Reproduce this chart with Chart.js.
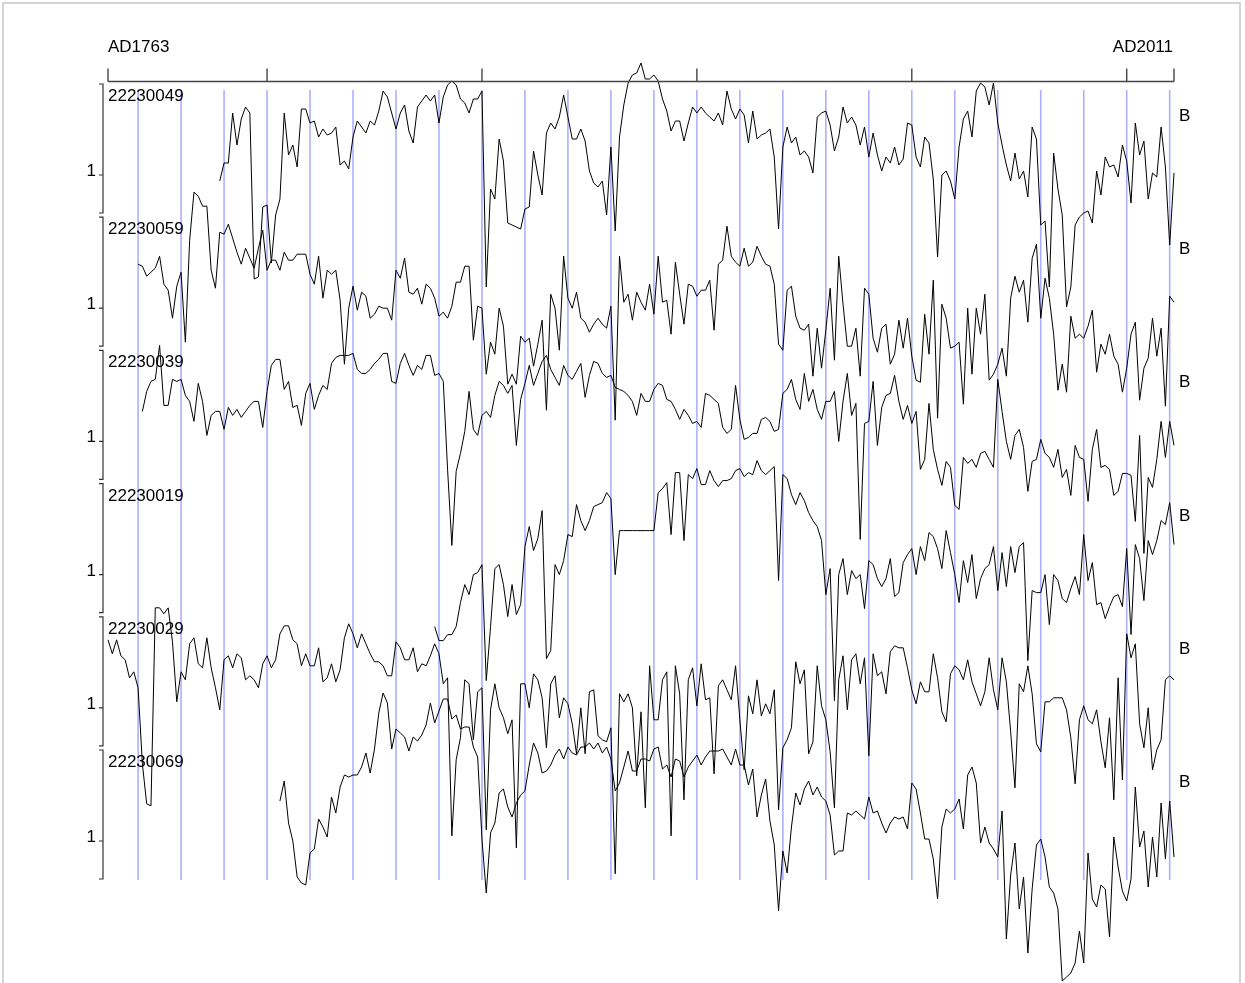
<!DOCTYPE html>
<html lang="en">
<head>
<meta charset="UTF-8">
<title>Ring width series 2223</title>
<script src="https://cdn.jsdelivr.net/npm/chart.js"></script>
<style>
  html, body { margin: 0; padding: 0; background: #fff; }
  body { width: 1245px; height: 983px; overflow: hidden; position: relative; }
  #frame { position: absolute; left: 2px; top: 2px; width: 1239px; height: 1100px; border: 2px solid #d4d4d4; box-sizing: border-box; }
  #chart { position: absolute; left: 0; top: 0; }
</style>
</head>
<body>
<div id="frame"></div>
<canvas id="chart" width="1245" height="983"></canvas>
<script>
const firstYear = 1763;
const lastYear = 2011;
const seriesNames = ['22230049', '22230059', '22230039', '22230019', '22230029', '22230069'];
const startYears = [1789, 1770, 1771, 1839, 1763, 1803];
const axisTicks = [1763, 1800, 1850, 1900, 1950, 2000, 2011];
const decadeLines = [1770, 1780, 1790, 1800, 1810, 1820, 1830, 1840, 1850, 1860, 1870, 1880, 1890,
  1900, 1910, 1920, 1930, 1940, 1950, 1960, 1970, 1980, 1990, 2000, 2010];
const endLabels = ['AD1763', 'AD2011'];

// ring width index, one value per year from the start year
const s22230049 = [0.97, 1.06, 1.06, 1.31, 1.15, 1.28, 1.34, 1.31, 0.48, 0.49, 0.84,
  0.85, 0.56, 0.80, 0.88, 1.31, 1.10, 1.15, 1.04, 1.33, 1.33,
  1.26, 1.27, 1.19, 1.23, 1.20, 1.21, 1.24, 1.05, 1.07, 1.03,
  1.19, 1.27, 1.24, 1.21, 1.27, 1.25, 1.32, 1.42, 1.39, 1.31,
  1.23, 1.31, 1.35, 1.22, 1.16, 1.34, 1.37, 1.40, 1.37, 1.40,
  1.26, 1.39, 1.45, 1.47, 1.45, 1.38, 1.36, 1.31, 1.38, 1.38,
  1.42, 0.44, 0.93, 0.88, 1.18, 1.07, 0.76, 0.75, 0.74, 0.73,
  0.83, 0.84, 1.12, 1.00, 0.90, 1.21, 1.26, 1.23, 1.29, 1.40,
  1.29, 1.18, 1.18, 1.23, 1.17, 1.02, 0.96, 0.94, 0.97, 0.80,
  1.14, 0.72, 1.19, 1.35, 1.46, 1.50, 1.51, 1.56, 1.48, 1.48,
  1.50, 1.47, 1.38, 1.32, 1.22, 1.27, 1.27, 1.17, 1.26, 1.34,
  1.31, 1.34, 1.31, 1.29, 1.27, 1.31, 1.25, 1.42, 1.33, 1.28,
  1.33, 1.30, 1.16, 1.32, 1.18, 1.20, 1.21, 1.23, 1.09, 0.73,
  1.14, 1.24, 1.16, 1.19, 1.10, 1.12, 1.09, 1.01, 1.29, 1.31,
  1.32, 1.25, 1.12, 1.19, 1.34, 1.26, 1.29, 1.25, 1.15, 1.24,
  1.09, 1.21, 1.10, 1.02, 1.09, 1.06, 1.14, 1.05, 1.08, 1.26,
  1.25, 1.09, 1.04, 1.19, 1.16, 0.98, 0.59, 1.00, 1.02, 0.97,
  0.88, 1.14, 1.28, 1.32, 1.19, 1.42, 1.46, 1.44, 1.35, 1.46,
  1.26, 1.15, 1.05, 0.97, 1.11, 0.98, 1.02, 0.89, 1.24, 1.18,
  0.75, 0.77, 0.44, 1.11, 0.93, 0.80, 0.34, 0.44, 0.75, 0.79,
  0.81, 0.82, 0.76, 1.02, 0.90, 1.09, 1.04, 1.05, 0.99, 1.15,
  1.07, 0.86, 1.26, 1.10, 1.17, 0.88, 1.01, 0.99, 1.24, 1.04,
  0.65, 1.01];

const s22230059 = [1.22, 1.21, 1.16, 1.18, 1.20, 1.26, 1.12, 1.09, 0.95, 1.11,
  1.18, 0.83, 1.34, 1.58, 1.56, 1.51, 1.51, 1.19, 1.10, 1.38,
  1.37, 1.42, 1.35, 1.28, 1.22, 1.30, 1.25, 1.20, 1.30, 1.39,
  1.19, 1.24, 1.24, 1.19, 1.28, 1.24, 1.24, 1.27, 1.27, 1.27,
  1.17, 1.12, 1.26, 1.05, 1.19, 1.17, 1.19, 1.04, 0.72, 1.00,
  1.11, 0.99, 1.08, 1.06, 0.95, 0.97, 1.01, 1.00, 1.00, 0.94,
  1.19, 1.15, 1.25, 1.08, 1.07, 1.10, 1.02, 1.12, 1.10, 1.05,
  0.96, 0.98, 0.95, 1.01, 1.13, 1.13, 1.21, 1.21, 0.84, 1.01,
  1.00, 0.67, 0.83, 0.77, 1.00, 0.91, 0.62, 0.67, 0.62, 0.86,
  0.83, 0.85, 0.71, 0.82, 0.94, 0.49, 1.07, 1.00, 0.79, 1.26,
  1.05, 1.00, 1.08, 0.95, 0.93, 0.88, 0.92, 0.95, 0.92, 0.90,
  1.01, 0.44, 1.26, 1.03, 1.07, 0.94, 1.08, 1.03, 0.99, 1.12,
  0.97, 1.26, 1.03, 1.04, 0.87, 1.23, 1.07, 0.92, 1.12, 1.11,
  1.06, 1.09, 1.09, 1.14, 0.89, 1.22, 1.24, 1.41, 1.26, 1.23,
  1.21, 1.30, 1.21, 1.23, 1.31, 1.26, 1.22, 1.21, 1.12, 0.82,
  0.79, 1.09, 1.11, 0.96, 0.90, 0.89, 0.92, 0.66, 0.90, 0.70,
  0.89, 1.10, 0.74, 1.26, 1.02, 0.81, 0.81, 0.90, 0.66, 1.10,
  1.07, 0.85, 0.78, 0.90, 0.92, 0.72, 0.77, 0.94, 0.80, 0.95,
  0.76, 0.64, 0.63, 0.97, 0.77, 1.14, 0.45, 1.02, 0.95, 0.80,
  0.81, 0.83, 0.52, 1.00, 0.67, 1.00, 0.87, 1.07, 0.64, 0.67,
  0.72, 0.80, 0.66, 1.05, 1.16, 1.08, 1.14, 0.93, 1.25, 1.32,
  0.95, 1.15, 1.05, 0.87, 0.59, 0.72, 0.58, 0.96, 0.85, 0.87,
  0.85, 0.91, 0.99, 0.68, 0.82, 0.77, 0.87, 0.76, 0.72, 0.58,
  0.70, 0.87, 0.93, 0.54, 0.70, 0.75, 0.95, 0.76, 0.90, 0.51,
  1.06, 1.03];

const s22230039 = [1.15, 1.25, 1.30, 1.31, 1.48, 1.18, 1.18, 1.31, 1.30,
  1.31, 1.23, 1.20, 1.10, 1.29, 1.20, 1.03, 1.13, 1.15, 1.15,
  1.06, 1.17, 1.13, 1.16, 1.12, 1.15, 1.18, 1.20, 1.20, 1.07,
  1.25, 1.38, 1.41, 1.41, 1.26, 1.30, 1.17, 1.18, 1.08, 1.24,
  1.29, 1.16, 1.23, 1.28, 1.26, 1.39, 1.42, 1.43, 1.43, 1.43,
  1.44, 1.36, 1.34, 1.34, 1.36, 1.39, 1.41, 1.44, 1.44, 1.30,
  1.29, 1.39, 1.44, 1.38, 1.33, 1.38, 1.36, 1.43, 1.43, 1.33,
  1.34, 1.30, 0.86, 0.48, 0.85, 0.94, 1.05, 1.25, 1.06, 1.03,
  1.13, 1.15, 1.12, 1.23, 1.30, 1.28, 1.24, 1.28, 0.98, 1.21,
  1.29, 1.38, 1.28, 1.34, 1.40, 1.43, 1.36, 1.32, 1.28, 1.38,
  1.33, 1.31, 1.35, 1.39, 1.22, 1.33, 1.40, 1.39, 1.34, 1.32,
  1.33, 1.27, 1.26, 1.25, 1.23, 1.20, 1.13, 1.24, 1.20, 1.20,
  1.26, 1.29, 1.28, 1.21, 1.20, 1.16, 1.11, 1.16, 1.13, 1.09,
  1.10, 1.07, 1.24, 1.23, 1.21, 1.19, 1.07, 1.04, 1.06, 1.28,
  1.11, 1.01, 1.02, 1.04, 1.04, 1.11, 1.12, 1.10, 1.05, 1.06,
  1.24, 1.26, 1.31, 1.21, 1.16, 1.34, 1.20, 1.26, 1.16, 1.11,
  1.20, 1.20, 1.25, 1.00, 1.20, 1.34, 1.13, 1.19, 0.51, 1.09,
  1.10, 1.30, 0.98, 1.17, 1.23, 1.24, 1.33, 1.20, 1.11, 1.18,
  1.09, 1.15, 0.86, 0.91, 1.19, 0.96, 0.86, 0.78, 0.90, 0.87,
  0.68, 0.66, 0.92, 0.89, 0.91, 0.87, 0.94, 0.95, 0.91, 0.87,
  1.31, 1.15, 1.00, 0.91, 1.03, 1.06, 0.97, 0.75, 0.90, 0.91,
  1.01, 0.94, 0.92, 0.87, 0.96, 0.82, 0.86, 0.73, 0.98, 0.92,
  0.91, 0.70, 0.96, 1.06, 0.87, 0.88, 0.86, 0.73, 0.75, 0.84,
  0.84, 0.83, 0.60, 1.03, 0.44, 0.82, 0.77, 0.91, 1.10, 0.92,
  1.10, 0.98];

const s22230019 = [0.74, 0.67, 0.67, 0.70, 0.70, 0.74, 0.86, 0.95, 0.90, 1.00, 1.01,
  1.05, 0.47, 0.74, 1.03, 1.05, 0.95, 0.79, 0.95, 0.80, 0.85,
  1.14, 1.24, 1.12, 1.18, 1.32, 0.58, 0.62, 1.05, 1.00, 1.07,
  1.20, 1.19, 1.35, 1.27, 1.22, 1.27, 1.34, 1.35, 1.36, 1.41,
  1.38, 1.00, 1.22, 1.22, 1.22, 1.22, 1.22, 1.22, 1.22, 1.22,
  1.22, 1.41, 1.43, 1.46, 1.20, 1.51, 1.51, 1.17, 1.50, 1.48,
  1.53, 1.45, 1.45, 1.52, 1.47, 1.44, 1.47, 1.47, 1.48, 1.52,
  1.53, 1.49, 1.51, 1.50, 1.57, 1.52, 1.50, 1.52, 1.54, 0.97,
  1.50, 1.48, 1.40, 1.35, 1.41, 1.37, 1.31, 1.27, 1.24, 1.17,
  0.90, 1.03, 0.37, 1.00, 1.08, 0.90, 1.02, 0.98, 1.00, 0.83,
  1.07, 1.05, 0.98, 0.94, 0.98, 1.08, 0.89, 0.91, 1.06, 1.10,
  1.13, 1.00, 1.14, 1.07, 1.21, 1.19, 1.13, 1.03, 1.22, 1.11,
  1.00, 0.86, 1.07, 0.96, 1.10, 0.88, 0.98, 1.03, 1.05, 1.14,
  0.92, 1.11, 0.94, 1.14, 1.01, 1.14, 1.16, 0.57, 0.92, 0.91,
  0.91, 1.00, 0.75, 1.00, 0.97, 0.88, 0.86, 0.93, 0.99, 0.90,
  1.20, 0.97, 1.06, 0.85, 0.86, 0.78, 0.84, 0.89, 0.90, 0.84,
  1.13, 0.70, 1.15, 1.08, 0.87, 1.17, 1.10, 1.17, 1.27, 1.25,
  1.36, 1.15];

const s22230029 = [1.34, 1.27, 1.34, 1.26, 1.24, 1.15, 1.18,
  1.10, 0.72, 0.52, 0.51, 1.50, 1.50, 1.47, 1.50, 1.33, 1.03,
  1.18, 1.14, 1.32, 1.35, 1.22, 1.20, 1.35, 1.20, 1.10, 0.99,
  1.24, 1.26, 1.20, 1.27, 1.25, 1.14, 1.16, 1.14, 1.10, 1.22,
  1.26, 1.20, 1.24, 1.37, 1.41, 1.41, 1.34, 1.32, 1.21, 1.27,
  1.21, 1.21, 1.30, 1.13, 1.15, 1.22, 1.13, 1.19, 1.35, 1.42,
  1.37, 1.30, 1.37, 1.32, 1.27, 1.23, 1.23, 1.21, 1.16, 1.16,
  1.33, 1.30, 1.24, 1.24, 1.30, 1.18, 1.22, 1.21, 1.26, 1.32,
  1.27, 1.12, 1.15, 0.36, 0.74, 0.85, 1.14, 1.12, 0.84, 1.08,
  1.10, 0.39, 0.99, 1.12, 1.00, 0.95, 0.87, 0.94, 0.30, 1.12,
  1.12, 1.00, 1.17, 1.14, 1.05, 0.80, 1.12, 1.16, 0.95, 1.05,
  1.02, 0.92, 0.77, 1.00, 0.77, 1.08, 1.09, 0.86, 0.84, 0.83,
  0.90, 0.17, 1.07, 1.03, 1.07, 1.00, 0.66, 0.98, 0.50, 1.21,
  0.94, 0.94, 1.14, 1.18, 0.36, 1.21, 1.07, 0.54, 1.14, 1.20,
  1.01, 1.22, 1.04, 1.05, 0.67, 1.11, 1.14, 1.09, 1.04, 1.21,
  0.94, 0.69, 1.06, 0.97, 1.14, 0.96, 1.02, 0.97, 1.09, 0.49,
  0.80, 0.84, 0.90, 1.23, 1.12, 1.19, 0.77, 0.83, 1.21, 1.01,
  0.94, 0.78, 0.50, 1.14, 1.26, 0.99, 1.24, 1.27, 1.12, 1.25,
  0.76, 1.27, 1.16, 1.18, 1.07, 1.28, 1.31, 1.30, 1.30, 1.20,
  1.09, 1.02, 1.13, 1.08, 1.08, 1.27, 1.15, 0.98, 0.93, 1.17,
  1.21, 1.19, 1.14, 1.24, 1.13, 1.07, 1.01, 1.08, 1.25, 1.09,
  0.99, 1.25, 1.13, 0.88, 0.60, 1.12, 1.08, 1.21, 1.07, 0.82,
  0.78, 1.03, 1.03, 1.05, 1.05, 1.05, 0.99, 0.85, 0.62, 0.94,
  1.01, 0.94, 0.92, 0.99, 0.83, 0.70, 0.95, 0.54, 1.15, 0.64,
  1.37, 1.25, 1.32, 0.92, 0.80, 1.00, 0.69, 0.79, 0.84, 1.14,
  1.16, 1.14];

const s22230069 = [1.20, 1.30, 1.09, 1.00, 0.82, 0.79, 0.78,
  0.94, 0.96, 1.11, 1.07, 1.02, 1.22, 1.14, 1.27, 1.33, 1.32,
  1.33, 1.33, 1.37, 1.44, 1.34, 1.46, 1.64, 1.74, 1.69, 1.46,
  1.56, 1.54, 1.52, 1.45, 1.52, 1.50, 1.53, 1.58, 1.69, 1.59,
  1.65, 1.71, 1.71, 1.61, 1.63, 1.56, 1.57, 1.57, 1.47, 1.42,
  1.01, 0.74, 1.04, 1.09, 1.24, 1.26, 1.17, 1.12, 1.19, 1.23,
  1.25, 1.38, 1.49, 1.44, 1.34, 1.35, 1.38, 1.43, 1.46, 1.41,
  1.47, 1.44, 1.43, 1.47, 1.47, 1.49, 1.46, 1.49, 1.44, 1.47,
  1.41, 1.25, 1.29, 1.37, 1.45, 1.35, 1.35, 1.41, 1.41, 1.40,
  1.46, 1.47, 1.36, 1.38, 1.32, 1.41, 1.40, 1.32, 1.37, 1.40,
  1.43, 1.38, 1.42, 1.45, 1.45, 1.45, 1.46, 1.42, 1.38, 1.46,
  1.38, 1.38, 1.28, 1.36, 1.12, 1.23, 1.31, 1.10, 0.98, 0.65,
  0.95, 0.84, 1.07, 1.24, 1.18, 1.26, 1.30, 1.23, 1.27, 1.22,
  1.20, 1.13, 0.93, 0.95, 0.95, 1.14, 1.13, 1.15, 1.13, 1.11,
  1.22, 1.14, 1.15, 1.09, 1.04, 1.09, 1.12, 1.11, 1.12, 1.06,
  1.29, 1.26, 1.14, 1.01, 1.01, 0.91, 0.71, 1.07, 1.16, 1.14,
  1.16, 1.21, 1.06, 1.33, 1.37, 1.29, 0.99, 1.07, 0.99, 0.96,
  0.92, 1.15, 0.51, 0.83, 0.99, 0.66, 0.82, 0.44, 0.76, 0.98,
  1.01, 0.92, 0.77, 0.74, 0.66, 0.30, 0.32, 0.34, 0.39, 0.55,
  0.39, 0.94, 0.71, 0.67, 0.78, 0.76, 0.52, 1.02, 0.87, 0.75,
  0.70, 0.81, 1.27, 0.97, 1.05, 0.77, 1.02, 0.82, 1.19, 0.91,
  1.20, 0.92];

const seriesValues = [s22230049, s22230059, s22230039, s22230019, s22230029, s22230069];

// each panel is shifted down by this many index units
const panelStep = 0.666;
const bracketLow = 0.81;
const bracketHigh = 1.455;

const datasets = seriesValues.map((vals, i) => ({
  label: seriesNames[i],
  data: vals.map((v, k) => ({ x: startYears[i] + k, y: v - i * panelStep })),
  borderColor: '#000',
  borderWidth: 1,
  pointRadius: 0,
  fill: false,
  tension: 0,
  clip: false
}));

const font = '17px "Liberation Sans", Arial, sans-serif';

const dendroPlugin = {
  id: 'dendro',
  beforeDatasetsDraw(chart) {
    const { ctx, scales: { x, y } } = chart;
    const top = y.getPixelForValue(bracketHigh) + 6;
    const bottom = y.getPixelForValue(bracketLow - (seriesNames.length - 1) * panelStep) + 1;
    ctx.save();
    ctx.strokeStyle = 'rgba(165,165,255,0.9)';
    ctx.lineWidth = 1.6;
    decadeLines.forEach(yr => {
      const px = x.getPixelForValue(yr);
      ctx.beginPath();
      ctx.moveTo(px, top);
      ctx.lineTo(px, bottom);
      ctx.stroke();
    });
    ctx.restore();
  },
  afterDatasetsDraw(chart) {
    const { ctx, chartArea, scales: { x, y } } = chart;
    ctx.save();
    // top time axis
    ctx.strokeStyle = '#444';
    ctx.lineWidth = 1.4;
    const ay = chartArea.top + 0.5;
    ctx.beginPath();
    ctx.moveTo(x.getPixelForValue(firstYear), ay);
    ctx.lineTo(x.getPixelForValue(lastYear), ay);
    axisTicks.forEach(yr => {
      const px = x.getPixelForValue(yr);
      ctx.moveTo(px, ay);
      ctx.lineTo(px, ay - 13);
    });
    ctx.stroke();

    ctx.fillStyle = '#000';
    ctx.font = font;
    ctx.textBaseline = 'alphabetic';
    ctx.textAlign = 'left';
    ctx.fillText(endLabels[0], x.getPixelForValue(firstYear), 52);
    ctx.textAlign = 'right';
    ctx.fillText(endLabels[1], x.getPixelForValue(lastYear) - 1, 52);

    // panel brackets and labels
    const bx = chartArea.left - 5;
    seriesNames.forEach((name, i) => {
      const off = i * panelStep;
      const yOne = y.getPixelForValue(1 - off);
      const yTop = y.getPixelForValue(bracketHigh - off);
      const yBot = y.getPixelForValue(bracketLow - off);
      ctx.strokeStyle = '#333';
      ctx.lineWidth = 1.2;
      ctx.beginPath();
      ctx.moveTo(bx - 4, yTop);
      ctx.lineTo(bx, yTop);
      ctx.lineTo(bx, yBot);
      ctx.lineTo(bx - 4, yBot);
      ctx.moveTo(bx - 4, yOne);
      ctx.lineTo(bx, yOne);
      ctx.stroke();

      ctx.textAlign = 'right';
      ctx.fillText('1', bx - 7, yOne + 1);
      ctx.textAlign = 'left';
      ctx.fillText(name, chartArea.left, yOne - 74);
      ctx.fillText('B', chartArea.right + 5, yOne - 54);
    });
    ctx.restore();
  }
};

new Chart(document.getElementById('chart').getContext('2d'), {
  type: 'line',
  data: { datasets },
  options: {
    responsive: false,
    animation: false,
    devicePixelRatio: 1,
    parsing: true,
    layout: { padding: { left: 108, right: 71, top: 81, bottom: 104 } },
    scales: {
      x: { type: 'linear', min: firstYear, max: lastYear, display: false },
      y: { type: 'linear', min: -2.52, max: 1.47, display: false }
    },
    plugins: { legend: { display: false }, tooltip: { enabled: false } }
  },
  plugins: [dendroPlugin]
});
</script>
</body>
</html>
